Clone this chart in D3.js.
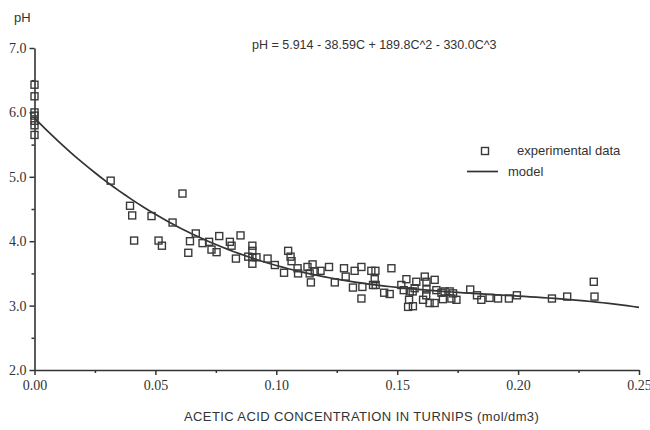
<!DOCTYPE html>
<html>
<head>
<meta charset="utf-8">
<script src="https://cdn.jsdelivr.net/npm/d3@7/dist/d3.min.js"></script>
<style>
  html, body { margin: 0; padding: 0; background: #fff; }
  svg { display: block; }
</style>
</head>
<body>
<svg id="chart" width="650" height="430"></svg>
<script>
// ---- data ----
const concentration = [
  0, 0, 0, 0, 0, 0, 0,
  0.0315, 0.0612, 0.0395, 0.0404, 0.0484, 0.0571, 0.0667, 0.0412, 0.0513, 0.0527,
  0.0643, 0.0636, 0.0695, 0.0722, 0.0764, 0.0732, 0.0753, 0.0808, 0.0815, 0.0852,
  0.0833, 0.0901, 0.0901, 0.0884, 0.0901, 0.0918, 0.0901,
  0.0964, 0.0994, 0.1049, 0.1059, 0.1063, 0.1032, 0.1088, 0.1090, 0.1129, 0.1150,
  0.1138, 0.1159, 0.1143, 0.1183, 0.1218, 0.1242, 0.1280, 0.1287, 0.1324, 0.1352,
  0.1317, 0.1356, 0.1352, 0.1393, 0.1410, 0.1407, 0.1400, 0.1411, 0.1446, 0.1469,
  0.1476, 0.1517, 0.1538, 0.1527, 0.1552, 0.1564, 0.1549, 0.1545, 0.1565, 0.1579,
  0.1572, 0.1614, 0.1621, 0.1655, 0.1621, 0.1620, 0.1634, 0.1607, 0.1655, 0.1662,
  0.1683, 0.1696, 0.1717, 0.1689, 0.1724, 0.1745, 0.1731, 0.1802, 0.1830, 0.1848,
  0.1882, 0.1917, 0.1962, 0.1995, 0.2140, 0.2203, 0.2313, 0.2316
];
const phValues = [
  6.43, 6.25, 6.00, 5.95, 5.87, 5.80, 5.65,
  4.94, 4.74, 4.55, 4.40, 4.39, 4.29, 4.12, 4.01, 4.01, 3.93,
  4.00, 3.82, 3.97, 3.99, 4.08, 3.87, 3.83, 3.99, 3.93, 4.09,
  3.73, 3.93, 3.85, 3.76, 3.75, 3.75, 3.65,
  3.73, 3.63, 3.85, 3.76, 3.69, 3.51, 3.58, 3.50, 3.60, 3.64,
  3.50, 3.53, 3.36, 3.54, 3.60, 3.36, 3.58, 3.45, 3.54, 3.60,
  3.28, 3.29, 3.11, 3.54, 3.54, 3.41, 3.32, 3.32, 3.20, 3.18,
  3.58, 3.32, 3.41, 3.24, 3.22, 3.22, 3.09, 2.98, 2.99, 3.37,
  3.27, 3.45, 3.37, 3.40, 3.25, 3.16, 3.04, 3.09, 3.04, 3.24,
  3.20, 3.22, 3.22, 3.10, 3.11, 3.09, 3.19, 3.25, 3.16, 3.09,
  3.12, 3.11, 3.11, 3.16, 3.11, 3.14, 3.37, 3.14
];
// model: pH = 5.914 - 38.59C + 189.8C^2 - 330.0C^3
const modelCoefficients = [5.914, -38.59, 189.8, -330.0];
const xTickValues = [0, 0.05, 0.10, 0.15, 0.20, 0.25];
const xTickLabels = ["0.00", "0.05", "0.10", "0.15", "0.20", "0.25"];
const xMinorTicks = [0.025, 0.075, 0.125, 0.175, 0.225];
const yTickValues = [2, 3, 4, 5, 6, 7];
const yTickLabels = ["2.0", "3.0", "4.0", "5.0", "6.0", "7.0"];
const yMinorTicks = [2.5, 3.5, 4.5, 5.5, 6.5];
const equationText = "pH = 5.914 - 38.59C + 189.8C^2 - 330.0C^3";
const xTitle = "ACETIC ACID CONCENTRATION IN TURNIPS (mol/dm3)";
const yTitle = "pH";
const legendLabels = ["experimental data", "model"];

// ---- drawing ----
const svg = d3.select("#chart");
const ink = "#333";
const serif = "'Liberation Serif', 'DejaVu Serif', serif";
const sans = "'Liberation Sans', Arial, sans-serif";

const x = d3.scaleLinear().domain([0, 0.25]).range([34.5, 639]);
const y = d3.scaleLinear().domain([2, 7]).range([370, 48]);

// x axis
const xAxis = d3.axisBottom(x)
  .tickValues(xTickValues)
  .tickFormat((d, i) => xTickLabels[i])
  .tickSize(5).tickSizeOuter(0).tickPadding(5);
const gx = svg.append("g").attr("transform", `translate(0,${y(2)})`).call(xAxis);
gx.select(".domain").attr("stroke", ink).attr("stroke-width", 1.6);
gx.selectAll(".tick line").attr("stroke", ink).attr("stroke-width", 1.5);
gx.selectAll(".tick text").attr("fill", ink).style("font-family", serif).style("font-size", "14px");

const xMinor = d3.axisBottom(x).tickValues(xMinorTicks).tickFormat("").tickSize(3).tickSizeOuter(0);
const gxm = svg.append("g").attr("transform", `translate(0,${y(2)})`).call(xMinor);
gxm.select(".domain").remove();
gxm.selectAll(".tick line").attr("stroke", ink).attr("stroke-width", 1.5);

// y axis
const yAxis = d3.axisLeft(y)
  .tickValues(yTickValues)
  .tickFormat((d, i) => yTickLabels[i])
  .tickSize(5).tickSizeOuter(0).tickPadding(3);
const gy = svg.append("g").attr("transform", `translate(${x(0)},0)`).call(yAxis);
gy.select(".domain").attr("stroke", ink).attr("stroke-width", 1.6);
gy.selectAll(".tick line").attr("stroke", ink).attr("stroke-width", 1.5);
gy.selectAll(".tick text").attr("fill", ink).style("font-family", serif).style("font-size", "14px");

const yMinor = d3.axisLeft(y).tickValues(yMinorTicks).tickFormat("").tickSize(3).tickSizeOuter(0);
const gym = svg.append("g").attr("transform", `translate(${x(0)},0)`).call(yMinor);
gym.select(".domain").remove();
gym.selectAll(".tick line").attr("stroke", ink).attr("stroke-width", 1.5);

// model curve
const model = c => modelCoefficients.reduce((s, k, i) => s + k * Math.pow(c, i), 0);
const curveC = d3.range(0, 0.2501, 0.0025);
const line = d3.line().x(c => x(c)).y(c => y(model(c)));
svg.append("path")
  .datum(curveC)
  .attr("d", line)
  .attr("fill", "none")
  .attr("stroke", ink)
  .attr("stroke-width", 1.7);

// data points
const pts = concentration.map((c, i) => ({ c, p: phValues[i] }));
const sq = 7;
svg.append("g").selectAll("rect")
  .data(pts).join("rect")
  .attr("x", d => x(d.c) - sq / 2)
  .attr("y", d => y(d.p) - sq / 2)
  .attr("width", sq).attr("height", sq)
  .attr("fill", "none")
  .attr("stroke", "#3a3a3a")
  .attr("stroke-width", 1.4);

// titles
svg.append("text").attr("x", 14).attr("y", 22)
  .style("font-family", sans).style("font-size", "13px").attr("fill", ink)
  .text(yTitle);
svg.append("text").attr("x", 252).attr("y", 49)
  .style("font-family", sans).style("font-size", "12.5px").attr("fill", ink)
  .text(equationText);
svg.append("text").attr("x", 184).attr("y", 421)
  .style("font-family", sans).style("font-size", "13px")
  .style("letter-spacing", "0.4px").attr("fill", ink)
  .text(xTitle);

// legend
const lg = svg.append("g");
lg.append("rect").attr("x", 485 - sq / 2).attr("y", 151 - sq / 2)
  .attr("width", sq).attr("height", sq)
  .attr("fill", "none").attr("stroke", "#3a3a3a").attr("stroke-width", 1.4);
lg.append("text").attr("x", 517).attr("y", 155)
  .style("font-family", sans).style("font-size", "13px").attr("fill", ink)
  .text(legendLabels[0]);
lg.append("line").attr("x1", 467).attr("x2", 498).attr("y1", 171.5).attr("y2", 171.5)
  .attr("stroke", ink).attr("stroke-width", 1.7);
lg.append("text").attr("x", 508).attr("y", 176)
  .style("font-family", sans).style("font-size", "13px").attr("fill", ink)
  .text(legendLabels[1]);
</script>
</body>
</html>
